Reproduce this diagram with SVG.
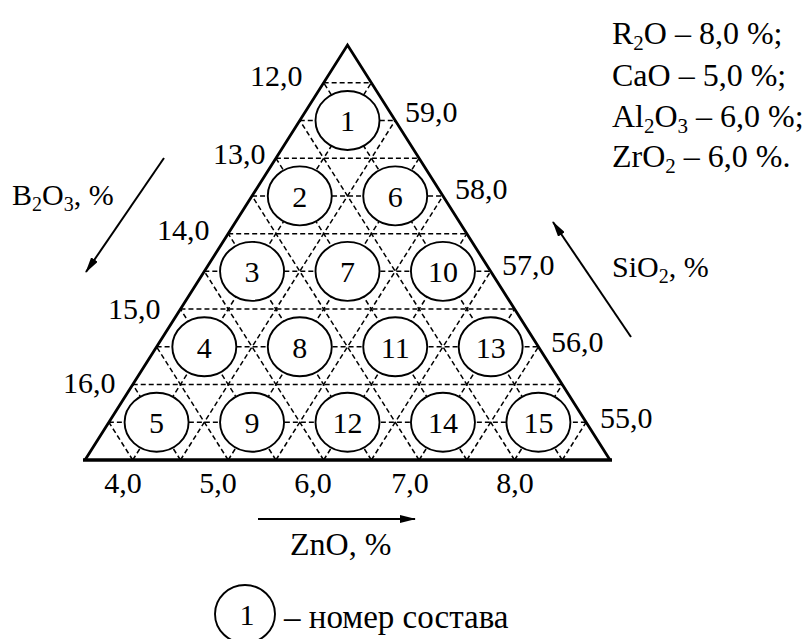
<svg xmlns="http://www.w3.org/2000/svg" width="808" height="639" viewBox="0 0 808 639">
<style>
text{font-family:"Liberation Serif","Times New Roman",serif;fill:#000}
.lbl{font-size:30px}
.big{font-size:32px}
.num{font-size:30px;text-anchor:middle}
.grid line{stroke:#000;stroke-width:1.5;stroke-dasharray:5 3}
.node ellipse{fill:#fff;stroke:#000;stroke-width:1.9}
.axis{stroke:#000;stroke-width:2;fill:none}
</style>
<defs>
<marker id="ah" viewBox="0 0 16 8" refX="15" refY="4" markerWidth="16" markerHeight="8" markerUnits="userSpaceOnUse" orient="auto">
<path d="M0,0 L16,4 L0,8 Z" fill="#000"/>
</marker>
</defs>
<rect width="808" height="639" fill="#fff"/>
<g id="grid" class="grid">
<line x1="323.64" y1="82.73" x2="371.36" y2="82.73"/>
<line x1="299.77" y1="120.45" x2="395.23" y2="120.45"/>
<line x1="275.91" y1="158.18" x2="419.09" y2="158.18"/>
<line x1="252.05" y1="195.91" x2="442.95" y2="195.91"/>
<line x1="228.18" y1="233.64" x2="466.82" y2="233.64"/>
<line x1="204.32" y1="271.36" x2="490.68" y2="271.36"/>
<line x1="180.45" y1="309.09" x2="514.55" y2="309.09"/>
<line x1="156.59" y1="346.82" x2="538.41" y2="346.82"/>
<line x1="132.73" y1="384.55" x2="562.27" y2="384.55"/>
<line x1="108.86" y1="422.27" x2="586.14" y2="422.27"/>
<line x1="132.73" y1="460" x2="371.36" y2="82.73"/>
<line x1="180.45" y1="460" x2="395.23" y2="120.45"/>
<line x1="228.18" y1="460" x2="419.09" y2="158.18"/>
<line x1="275.91" y1="460" x2="442.95" y2="195.91"/>
<line x1="323.64" y1="460" x2="466.82" y2="233.64"/>
<line x1="371.36" y1="460" x2="490.68" y2="271.36"/>
<line x1="419.09" y1="460" x2="514.55" y2="309.09"/>
<line x1="466.82" y1="460" x2="538.41" y2="346.82"/>
<line x1="514.55" y1="460" x2="562.27" y2="384.55"/>
<line x1="562.27" y1="460" x2="586.14" y2="422.27"/>
<line x1="132.73" y1="460" x2="108.86" y2="422.27"/>
<line x1="180.45" y1="460" x2="132.73" y2="384.55"/>
<line x1="228.18" y1="460" x2="156.59" y2="346.82"/>
<line x1="275.91" y1="460" x2="180.45" y2="309.09"/>
<line x1="323.64" y1="460" x2="204.32" y2="271.36"/>
<line x1="371.36" y1="460" x2="228.18" y2="233.64"/>
<line x1="419.09" y1="460" x2="252.05" y2="195.91"/>
<line x1="466.82" y1="460" x2="275.91" y2="158.18"/>
<line x1="514.55" y1="460" x2="299.77" y2="120.45"/>
<line x1="562.27" y1="460" x2="323.64" y2="82.73"/>
</g>
<g id="n1" class="node"><ellipse cx="347.5" cy="120.45" rx="32" ry="29.5"/><text class="num" x="347.5" y="131">1</text></g>
<g id="n2" class="node"><ellipse cx="299.77" cy="195.91" rx="32" ry="29.5"/><text class="num" x="299.77" y="206.5">2</text></g>
<g id="n6" class="node"><ellipse cx="395.23" cy="195.91" rx="32" ry="29.5"/><text class="num" x="395.23" y="206.5">6</text></g>
<g id="n3" class="node"><ellipse cx="252.05" cy="271.36" rx="32" ry="29.5"/><text class="num" x="252.05" y="282">3</text></g>
<g id="n7" class="node"><ellipse cx="347.5" cy="271.36" rx="32" ry="29.5"/><text class="num" x="347.5" y="282">7</text></g>
<g id="n10" class="node"><ellipse cx="442.95" cy="271.36" rx="32" ry="29.5"/><text class="num" x="442.95" y="282">10</text></g>
<g id="n4" class="node"><ellipse cx="204.32" cy="346.82" rx="32" ry="29.5"/><text class="num" x="204.32" y="357.5">4</text></g>
<g id="n8" class="node"><ellipse cx="299.77" cy="346.82" rx="32" ry="29.5"/><text class="num" x="299.77" y="357.5">8</text></g>
<g id="n11" class="node"><ellipse cx="395.23" cy="346.82" rx="32" ry="29.5"/><text class="num" x="395.23" y="357.5">11</text></g>
<g id="n13" class="node"><ellipse cx="490.68" cy="346.82" rx="32" ry="29.5"/><text class="num" x="490.68" y="357.5">13</text></g>
<g id="n5" class="node"><ellipse cx="156.59" cy="422.27" rx="32" ry="29.5"/><text class="num" x="156.59" y="433">5</text></g>
<g id="n9" class="node"><ellipse cx="252.05" cy="422.27" rx="32" ry="29.5"/><text class="num" x="252.05" y="433">9</text></g>
<g id="n12" class="node"><ellipse cx="347.5" cy="422.27" rx="32" ry="29.5"/><text class="num" x="347.5" y="433">12</text></g>
<g id="n14" class="node"><ellipse cx="442.95" cy="422.27" rx="32" ry="29.5"/><text class="num" x="442.95" y="433">14</text></g>
<g id="n15" class="node"><ellipse cx="538.41" cy="422.27" rx="32" ry="29.5"/><text class="num" x="538.41" y="433">15</text></g>
<g id="triangle" fill="none" stroke="#000" stroke-linejoin="miter">
<path d="M85,460 L347.5,45 L610,460" stroke-width="2.8"/>
<line x1="83" y1="460" x2="612" y2="460" stroke-width="3.6"/>
</g>
<g id="connectors">
<line class="axis" x1="164" y1="158" x2="86" y2="272" marker-end="url(#ah)"/>
<line class="axis" x1="631" y1="337" x2="553" y2="222" marker-end="url(#ah)"/>
<line class="axis" x1="258" y1="519" x2="415" y2="519" marker-end="url(#ah)"/>
</g>
<g id="labels" class="lbl">
<text x="250" y="86">12,0</text>
<text x="213" y="164">13,0</text>
<text x="157" y="240">14,0</text>
<text x="108" y="319">15,0</text>
<text x="63" y="393">16,0</text>
<text x="405" y="122">59,0</text>
<text x="455" y="199">58,0</text>
<text x="502" y="275">57,0</text>
<text x="551" y="352">56,0</text>
<text x="600" y="428">55,0</text>
<text x="123" y="493" text-anchor="middle">4,0</text>
<text x="218" y="493" text-anchor="middle">5,0</text>
<text x="313" y="493" text-anchor="middle">6,0</text>
<text x="410" y="493" text-anchor="middle">7,0</text>
<text x="515" y="493" text-anchor="middle">8,0</text>
<text class="big" x="290" y="555">ZnO, %</text>
<text x="12" y="205">B<tspan font-size="20" dy="6">2</tspan><tspan dy="-6">O</tspan><tspan font-size="20" dy="6">3</tspan><tspan dy="-6">, %</tspan></text>
<text x="612" y="277">SiO<tspan font-size="20" dy="6">2</tspan><tspan dy="-6">, %</tspan></text>
<g class="big">
<text x="612" y="44">R<tspan font-size="21" dy="6">2</tspan><tspan dy="-6">O – 8,0 %;</tspan></text>
<text x="612" y="86">CaO – 5,0 %;</text>
<text x="612" y="127">Al<tspan font-size="21" dy="6">2</tspan><tspan dy="-6">O</tspan><tspan font-size="21" dy="6">3</tspan><tspan dy="-6"> – 6,0 %;</tspan></text>
<text x="612" y="167">ZrO<tspan font-size="21" dy="6">2</tspan><tspan dy="-6"> – 6,0 %.</tspan></text>
</g>
</g>
<g id="legend">
<ellipse cx="245" cy="614" rx="30" ry="29" fill="#fff" stroke="#000" stroke-width="1.9"/>
<text class="num" x="247" y="625">1</text>
<text class="big" x="284" y="628" style="font-size:33px">– номер состава</text>
</g>
</svg>
